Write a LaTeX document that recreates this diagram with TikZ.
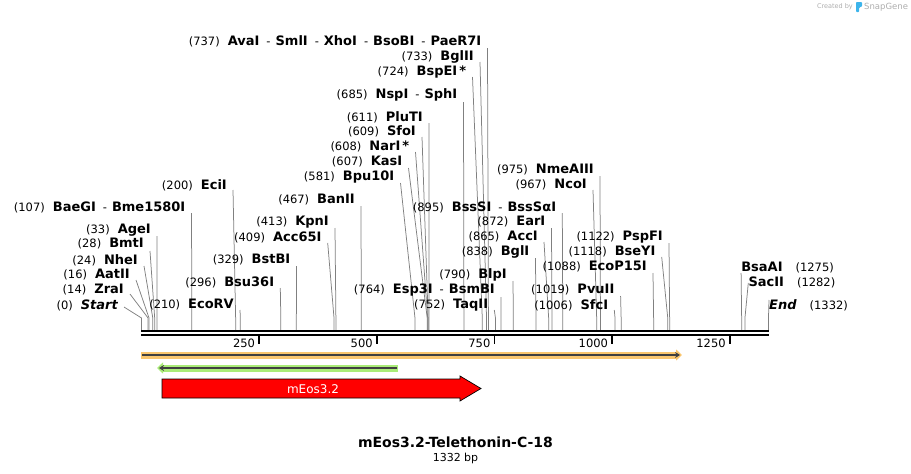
\documentclass[tikz,border=0pt]{standalone}
\usepackage{fontspec}
\setmainfont{DejaVu Sans}
\usetikzlibrary{arrows.meta}

\definecolor{sitegray}{gray}{0.5}
\definecolor{darkline}{gray}{0.25}
\definecolor{orangeband}{RGB}{250,198,110}
\definecolor{greenband}{RGB}{170,236,120}
\definecolor{snapblue}{RGB}{60,180,235}
\definecolor{wmgray}{gray}{0.68}

\newcommand{\nm}[1]{{\fontsize{13}{15}\selectfont\bfseries #1}}
\newcommand{\gap}{\hspace{8pt}}
\newcommand{\sep}{\hspace{7pt}-\hspace{5pt}}

\tikzset{
  enz/.style={inner sep=0pt, font=\fontsize{11.5}{13}\selectfont},
  site/.style={draw=sitegray, line width=0.75pt},
  bar/.style={line width=2pt, black},
  tick/.style={line width=1.6pt, black},
  ticklab/.style={inner sep=0pt, anchor=east, font=\fontsize{11.5}{13}\selectfont},
  band/.style={line width=7pt, -{Triangle[length=6pt,width=11pt]}},
  core/.style={darkline, line width=1.8pt, -{Stealth[length=5pt,width=6pt]}},
}

\begin{document}
\begin{tikzpicture}[x=1pt, y=-1pt]
\useasboundingbox (0,0) rectangle (911,474);

% watermark
\node[inner sep=0pt, anchor=east, text=wmgray, font=\fontsize{6.5}{8}\selectfont] (made) at (853,7) {Created by};
\fill[snapblue, rounded corners=0.8pt] (856,2) -- (862,2) -- (862,6.5) -- (859.2,7.5) -- (859.2,12) -- (856,12) -- cycle;
\node[inner sep=0pt, anchor=west, text=wmgray, font=\fontsize{8.5}{10}\selectfont] (snap) at (864,7) {SnapGene};

\coordinate (rul) at (141,330);

% enzyme labels left of their lines
\foreach \ly/\tx/\ty/\bp/\txt in {
  41/487.5/48/737/{(737)\gap\nm{AvaI}\sep\nm{SmlI}\sep\nm{XhoI}\sep\nm{BsoBI}\sep\nm{PaeR7I}},
  57/480/62/733/{(733)\gap\nm{BglII}},
  72/472.5/77/724/{(724)\gap\nm{BspEI\,*}},
  95/463.5/102/685/{(685)\gap\nm{NspI}\sep\nm{SphI}},
  117/429/123/611/{(611)\gap\nm{PluTI}},
  131/422/137/609/{(609)\gap\nm{SfoI}},
  146/415.5/152/608/{(608)\gap\nm{NarI\,*}},
  162/408.5/168/607/{(607)\gap\nm{KasI}},
  177/400.5/183/581/{(581)\gap\nm{Bpu10I}},
  185/233/190/200/{(200)\gap\nm{EciI}},
  170/600/176/975/{(975)\gap\nm{NmeAIII}},
  185/593/190/967/{(967)\gap\nm{NcoI}},
  200/361/206/467/{(467)\gap\nm{BanII}},
  207/191.5/213/107/{(107)\gap\nm{BaeGI}\sep\nm{Bme1580I}},
  207/562.3/213/895/{(895)\gap\nm{BssSI}\sep\nm{BssSαI}},
  222/335/228/413/{(413)\gap\nm{KpnI}},
  222/551.5/228/872/{(872)\gap\nm{EarI}},
  237/327.7/243/409/{(409)\gap\nm{Acc65I}},
  237/544/242/865/{(865)\gap\nm{AccI}},
  237/669/243/1122/{(1122)\gap\nm{PspFI}},
  230/157/236/33/{(33)\gap\nm{AgeI}},
  244/150/251/28/{(28)\gap\nm{BmtI}},
  252/535.5/258/838/{(838)\gap\nm{BglI}},
  252/661.7/257/1118/{(1118)\gap\nm{BseYI}},
  260/296.5/266/329/{(329)\gap\nm{BstBI}},
  260/144/266/24/{(24)\gap\nm{NheI}},
  267/653/273/1088/{(1088)\gap\nm{EcoP15I}},
  275/513/281/790/{(790)\gap\nm{BlpI}},
  275/136/280/16/{(16)\gap\nm{AatII}},
  282/280.3/288/296/{(296)\gap\nm{Bsu36I}},
  290/130/294/14/{(14)\gap\nm{ZraI}},
  290/501/297/764/{(764)\gap\nm{Esp3I}\sep\nm{BsmBI}},
  290/620.6/296/1019/{(1019)\gap\nm{PvuII}},
  305/240/310/210/{(210)\gap\nm{EcoRV}},
  305/494.3/310/752/{(752)\gap\nm{TaqII}},
  305/614.3/310/1006/{(1006)\gap\nm{SfcI}},
  305/124/307/0/{(0)\gap\nm{\itshape Start}}%
}{
  \pgfmathsetmacro\sx{141.5+0.4707*\bp}
  \node[enz, anchor=east] (e\bp) at (\tx-6,\ly) {\txt};
  \coordinate (t\bp) at (\tx,\ty);
  \coordinate (c\bp) at (\sx,318);
  \draw[site] (t\bp) -- (c\bp) -- (c\bp |- rul);
}

% enzyme labels right of their lines
\foreach \ly/\tx/\ty/\bp/\txt in {
  268/741.1/273/1275/{\nm{BsaAI}\hspace{13pt}(1275)},
  282/748.3/283/1282/{\nm{SacII}\hspace{13pt}(1282)},
  305/769/300/1332/{\nm{\itshape End}\hspace{13pt}(1332)}%
}{
  \pgfmathsetmacro\sx{141.5+0.4707*\bp}
  \node[enz, anchor=west] (e\bp) at (\tx,\ly) {\txt};
  \coordinate (t\bp) at (\tx,\ty);
  \coordinate (c\bp) at (\sx,318);
  \draw[site] (t\bp) -- (c\bp) -- (c\bp |- rul);
}

% ruler
\coordinate (r0) at (141,331);
\coordinate (r1) at (769,331);
\draw[bar] (r0) -- (r1);
\draw[bar] ([yshift=-4pt]r0) -- ([yshift=-4pt]r1);
\foreach \t in {250,500,750,1000,1250}{
  \pgfmathsetmacro\kx{141.5+0.4707*\t}
  \coordinate (k\t) at (\kx,336);
  \draw[tick] (k\t) -- ++(0,8);
  \node[ticklab] (n\t) at (\kx-4,343) {\t};
}

% features
\coordinate (o1) at (141,355);
\coordinate (o2) at (682,355);
\draw[band, orangeband] (o1) -- (o2);
\draw[core] ([xshift=1pt]o1) -- ([xshift=-2pt]o2);

\coordinate (g1) at (398,368);
\coordinate (g2) at (157,368);
\draw[band, greenband] (g1) -- (g2);
\draw[core] ([xshift=-1pt]g1) -- ([xshift=2pt]g2);

\draw[fill=red, draw=black, line width=0.7pt]
  (162,379) -- (460,379) -- (460,376) -- (481,388.5) -- (460,401) -- (460,398) -- (162,398) -- cycle;
\node[text=white, inner sep=0pt, font=\fontsize{12}{14}\selectfont] (meos) at (313,389) {mEos3.2};

% title
\node[inner sep=0pt, font=\fontsize{14}{16}\selectfont\bfseries] (title) at (455.5,442) {mEos3.2-Telethonin-C-18};
\node[inner sep=0pt, font=\fontsize{11}{13}\selectfont] (len) at (455.5,458) {1332 bp};
\end{tikzpicture}
\end{document}
